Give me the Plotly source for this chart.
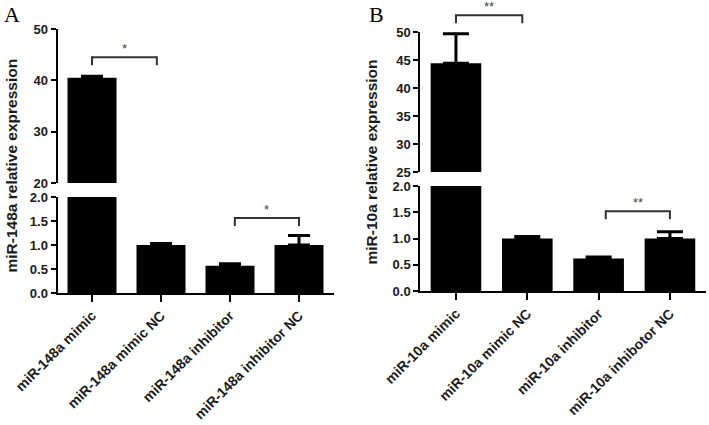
import plotly.graph_objects as go

# ---------------- data ----------------
cats_A = ["miR-148a mimic", "miR-148a mimic NC", "miR-148a inhibitor", "miR-148a inhibitor NC"]
vals_A = [40.5, 1.0, 0.57, 1.0]
errs_A = [0.3, 0.03, 0.04, 0.2]
sig_A_x = [[0, 0.94], [2.07, 3.0]]
sig_A_y = [44.5, 1.56]          # first in upper segment, second in lower segment
sig_A_seg = ["upper", "lower"]
sig_A_txt = ["*", "*"]

cats_B = ["miR-10a mimic", "miR-10a mimic NC", "miR-10a inhibitor", "miR-10a inhibotor NC"]
vals_B = [44.4, 1.0, 0.62, 1.0]
errs_B = [5.3, 0.04, 0.03, 0.13]
sig_B_x = [[0, 0.93], [2.1, 3.0]]
sig_B_y = [53.0, 1.52]
sig_B_seg = ["upper", "lower"]
sig_B_txt = ["**", "**"]

ytitle_A = "miR-148a relative expression"
ytitle_B = "miR-10a relative expression"

# ---------------- layout geometry ----------------
W, H = 709, 425
def fx(px): return px / W
def fy(py): return 1 - py / H

panels = {
    "A": dict(cats=cats_A, vals=vals_A, errs=errs_A, sx=sig_A_x, sy=sig_A_y, sseg=sig_A_seg, stxt=sig_A_txt,
              xdom=[fx(57.5), fx(333.5)],
              low=dict(dom=[fy(293), fy(197)], rng=[0, 2], dtick=0.5, fmt=".1f"),
              up=dict(dom=[fy(183), fy(29)], rng=[20, 50], dtick=10, fmt="d"),
              xa="x", ylow="y", yup="y3", errw=11, title=ytitle_A, tx=fx(11), ty=fy(165.5),
              letter="A", lx=fx(2)),
    "B": dict(cats=cats_B, vals=vals_B, errs=errs_B, sx=sig_B_x, sy=sig_B_y, sseg=sig_B_seg, stxt=sig_B_txt,
              xdom=[fx(420.3), fx(705.6)],
              low=dict(dom=[fy(291), fy(186)], rng=[0, 2], dtick=0.5, fmt=".1f"),
              up=dict(dom=[fy(172), fy(32)], rng=[25, 50], dtick=5, fmt="d"),
              xa="x2", ylow="y2", yup="y4", errw=13, title=ytitle_B, tx=fx(371), ty=fy(162.5),
              letter="B", lx=fx(367)),
}

FONT = "Liberation Sans, Arial, sans-serif"
tickfont = dict(family=FONT, size=13, color="#1a1a1a", weight="bold")

fig = go.Figure()
layout = dict(width=W, height=H, margin=dict(l=0, r=0, t=0, b=0, autoexpand=False),
              paper_bgcolor="white", plot_bgcolor="white", showlegend=False, bargap=0.29)
shapes, annos = [], []

def axname(ref):  # 'y3' -> 'yaxis3'
    return ref[0] + "axis" + ref[1:]

for key, p in panels.items():
    for seg, yref in (("low", p["ylow"]), ("up", p["yup"])):
        fig.add_trace(go.Bar(x=p["cats"], y=p["vals"], xaxis=p["xa"], yaxis=yref,
                             marker=dict(color="black", line=dict(width=0)),
                             error_y=dict(type="data", array=p["errs"], arrayminus=[0] * 4, symmetric=False,
                                          color="black", thickness=3, width=p["errw"]),
                             hoverinfo="skip"))
        s = p[seg]
        layout[axname(yref)] = dict(domain=s["dom"], range=s["rng"], anchor=p["xa"], dtick=s["dtick"],
                                    tick0=0, tickformat=s["fmt"], showgrid=False, zeroline=False,
                                    showline=True, linecolor="black", linewidth=2, ticks="outside",
                                    ticklen=5, tickwidth=2, tickcolor="black", tickfont=tickfont,
                                    automargin=False)
    layout[axname(p["xa"])] = dict(domain=p["xdom"], anchor=p["ylow"], range=[-0.5, 3.5], type="category",
                                   showgrid=False, zeroline=False, showline=True, linecolor="black",
                                   linewidth=2, ticks="outside", ticklen=7, tickwidth=2, tickcolor="black",
                                   tickangle=-45, automargin=False,
                                   tickfont=dict(family=FONT, size=14, color="#1a1a1a", weight="bold"))

    def px_x(c, p=p):
        d0, d1 = p["xdom"]
        return d0 + (c + 0.5) / 4 * (d1 - d0)

    def px_y(v, seg, p=p):
        s = p["low"] if seg == "lower" else p["up"]
        d0, d1 = s["dom"]
        r0, r1 = s["rng"]
        return d0 + (v - r0) / (r1 - r0) * (d1 - d0)

    drop = 8 / H
    for (xa_, xb_), yv, seg, txt in zip(p["sx"], p["sy"], p["sseg"], p["stxt"]):
        xa0, xb0 = px_x(xa_), px_x(xb_)
        yy = px_y(yv, seg)
        path = f"M {xa0},{yy - drop} L {xa0},{yy} L {xb0},{yy} L {xb0},{yy - drop}"
        shapes.append(dict(type="path", path=path, xref="paper", yref="paper",
                           line=dict(color="#333333", width=2)))
        annos.append(dict(x=(xa0 + xb0) / 2, y=yy, xref="paper", yref="paper", text=txt,
                          showarrow=False, yanchor="bottom", xanchor="center", borderpad=0,
                          font=dict(family=FONT, size=13, color="#444444")))

    annos.append(dict(x=p["tx"], y=p["ty"], xref="paper", yref="paper", text=p["title"], textangle=-90,
                      showarrow=False, xanchor="center", yanchor="middle",
                      font=dict(family=FONT, size=15.5, color="#1a1a1a", weight="bold")))
    annos.append(dict(x=p["lx"], y=1.0, xref="paper", yref="paper", text=p["letter"], showarrow=False,
                      xanchor="left", yanchor="top",
                      font=dict(family="Liberation Serif, Times New Roman, serif", size=22, color="black")))

layout["shapes"] = shapes
layout["annotations"] = annos
fig.update_layout(**layout)
fig.write_html("out.html", config={"displayModeBar": False},
               post_script="document.body.style.margin='0';document.body.style.padding='0';")
